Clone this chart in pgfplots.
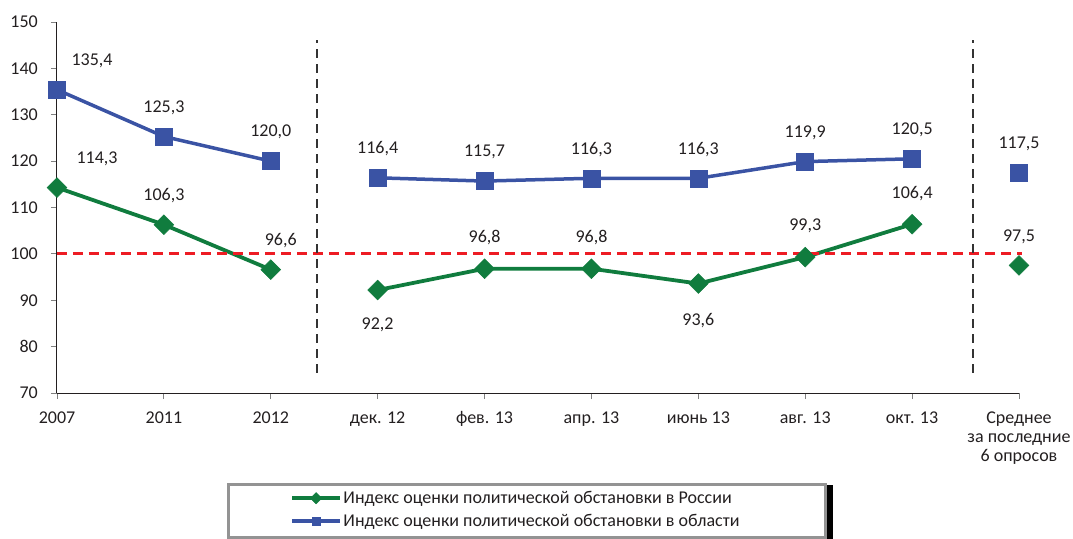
\documentclass[border=0pt]{standalone}
\usepackage{pgfplots}
\pgfplotsset{compat=1.18}
\usepackage{pgfplotstable}
\usepackage{fontspec}
\setmainfont{Carlito}
\definecolor{cgreen}{RGB}{16,124,62}
\definecolor{cblue}{RGB}{58,83,164}
\definecolor{cred}{RGB}{237,28,36}
\definecolor{cgray}{RGB}{51,51,51}
\definecolor{ctext}{RGB}{35,31,32}
\newcommand\lbl{\fontsize{18bp}{19bp}\selectfont}

\pgfplotstableread{
x y dx dy
0 114.3 40 29
1 106.3 0 29
2 96.6 10 29
}\ruA
\pgfplotstableread{
x y dx dy
3 92.2 0 -35
4 96.8 0 31
5 96.8 0 31
6 93.6 0 -37
7 99.3 0 31
8 106.4 0 31
}\ruB
\pgfplotstableread{
x y dx dy
9 97.5 0 29
}\ruC
\pgfplotstableread{
x y dx dy
0 135.4 35 29
1 125.3 0 29
2 120.0 0 29
}\obA
\pgfplotstableread{
x y dx dy
3 116.4 0 29
4 115.7 0 29
5 116.3 0 29
6 116.3 0 29
7 119.9 0 29
8 120.5 0 29
}\obB
\pgfplotstableread{
x y dx dy
9 117.5 0 29
}\obC

\pgfplotsset{
  lab/.style={
    nodes near coords,
    visualization depends on={\thisrow{dx} \as \dx},
    visualization depends on={\thisrow{dy} \as \dy},
    nodes near coords style={font=\lbl, text=ctext, anchor=center,
      xshift=\dx bp, yshift=\dy bp,
      /pgf/number format/.cd, fixed, fixed zerofill, precision=1, use comma, assume math mode=true},
  },
  gser/.style={cgreen, line width=3.8bp, mark=square*, mark size=7bp, mark options={rotate=45, line width=0.5bp}, lab},
  bser/.style={cblue, line width=3.5bp, mark=square*, mark size=8.5bp, mark options={line width=0.5bp}, lab},
}

\begin{document}
\begin{tikzpicture}
\useasboundingbox (-57bp,-146bp) rectangle (1016bp,393bp);
\begin{axis}[
  scale only axis,
  width=962bp, height=371bp,
  xmin=0, xmax=9, ymin=70, ymax=150,
  axis x line*=bottom, axis y line*=left,
  axis line style={ctext, line width=1bp},
  xtick={0,...,9},
  xticklabels={2007,2011,2012,дек. 12,фев. 13,апр. 13,июнь 13,авг. 13,окт. 13,{\begin{tabular}[t]{@{}c@{}}Среднее\\за последние\\6 опросов\end{tabular}}},
  ytick={70,80,...,150},
  tick align=outside,
  major tick length=6bp,
  tick style={gray, line width=0.8bp},
  xticklabel style={font=\lbl, text=ctext, inner sep=0pt, anchor=base, yshift=-24bp},
  yticklabel style={font=\lbl, text=ctext, inner sep=0pt, xshift=-13bp},
  /pgf/number format/assume math mode=true,
  clip=false,
  legend style={draw=none, fill=none, at={(axis description cs:0.2422,-0.3143)}, anchor=west,
    font=\lbl, text=ctext, inner sep=0pt, row sep=6bp,
    nodes={inner sep=1.5bp}},
  legend cell align=left,
  legend image code/.code={\draw[mark repeat=2,mark phase=2, mark size=4bp] plot coordinates {(0bp,0bp) (24bp,0bp) (48bp,0bp)};},
]
\addplot[gser] table[x=x,y=y] {\ruA};
\addplot[bser] table[x=x,y=y] {\obA};
\addplot[gser, forget plot] table[x=x,y=y] {\ruB};
\addplot[gser, only marks, forget plot] table[x=x,y=y] {\ruC};
\addplot[bser, forget plot] table[x=x,y=y] {\obB};
\addplot[bser, only marks, forget plot] table[x=x,y=y] {\obC};
\addplot[cred, line width=3bp, dash pattern=on 10bp off 6bp, no marks, forget plot] coordinates {(0,100) (9.03,100)};
\addplot[cgray, line width=2.2bp, dash pattern=on 9bp off 6bp, no marks, forget plot] coordinates {(2.43,74.4) (2.43,146.1)};
\addplot[cgray, line width=2.2bp, dash pattern=on 9bp off 6bp, no marks, forget plot] coordinates {(8.57,74.4) (8.57,146.1)};
\legend{Индекс оценки политической обстановки в России, Индекс оценки политической обстановки в области}
\end{axis}
\fill[black] (770bp,-92bp) rectangle (776bp,-146bp);
\draw[gray!85, line width=3bp] (171bp,-91bp) rectangle (768bp,-144bp);
\end{tikzpicture}
\end{document}
